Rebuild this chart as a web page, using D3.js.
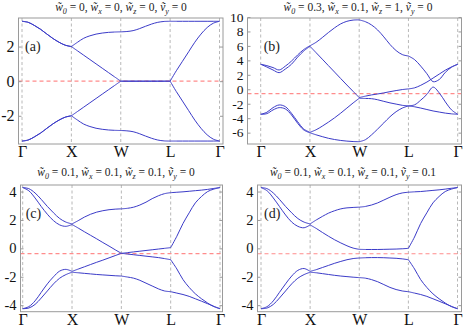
<!DOCTYPE html>
<html><head><meta charset="utf-8">
<script src="https://cdn.jsdelivr.net/npm/d3@7"></script>
<style>body{margin:0;background:#fff}svg{display:block}text{font-family:"Liberation Serif","Times New Roman",serif}</style>
</head><body>
<svg id="c" width="463" height="329"></svg>
<script>
// ---- data ----
const kPath = d3.range(0, 4.0001, 0.125);
const kLabels = ["Γ", "X", "W", "L", "Γ"];
const panelTags = ["(a)", "(b)", "(c)", "(d)"];
const titleParams = [["0","0","0","0"],["0.3","0.1","1","0"],["0.1","0.1","0.1","0"],["0.1","0.1","0.1","0.1"]];
const yTicksA = [-2, 0, 2];
const yTicksB = [-6, -4, -2, 0, 2, 4, 6, 8, 10];
const yTicksCD = [-4, -2, 0, 2, 4];
const fermi = [0, -0.6, -0.37, -0.38];

const a1 = [3.46,3.4,3.22,3.0,2.73,2.47,2.25,2.08,2.0, 2.25,2.48,2.62,2.72,2.78,2.82,2.84,2.85, 2.87,2.92,3.03,3.17,3.3,3.4,3.45,3.46, 3.46,3.46,3.46,3.46,3.46,3.46,3.46,3.46];
const a2 = [3.46,3.4,3.22,3.0,2.73,2.47,2.25,2.08,2.0, 1.75,1.5,1.25,1.0,0.75,0.5,0.25,0, 0,0,0,0,0,0,0,0, 0.6,1.15,1.7,2.25,2.72,3.1,3.35,3.46];
const a3 = [-3.46,-3.4,-3.22,-3.0,-2.73,-2.47,-2.25,-2.08,-2.0, -1.75,-1.5,-1.25,-1.0,-0.75,-0.5,-0.25,0, 0,0,0,0,0,0,0,0, -0.6,-1.15,-1.7,-2.25,-2.72,-3.1,-3.35,-3.46];
const a4 = [-3.46,-3.4,-3.22,-3.0,-2.73,-2.47,-2.25,-2.08,-2.0, -2.25,-2.48,-2.62,-2.72,-2.78,-2.82,-2.84,-2.85, -2.87,-2.92,-3.03,-3.17,-3.3,-3.4,-3.45,-3.46, -3.46,-3.46,-3.46,-3.46,-3.46,-3.46,-3.46,-3.46];

const b1 = [3.46,3.27,3.0,2.67,3.2,3.9,4.75,5.5,6.02, 6.5,7.15,7.85,8.5,9.05,9.4,9.57,9.6, 9.35,8.9,8.2,7.25,6.2,5.35,4.8,4.6, 4.1,3.2,2.15,1.05,1.35,2.35,3.05,3.46];
const b2 = [3.46,3.08,2.67,2.3,2.8,3.46,4.45,5.3,5.95, 5.06,4.17,3.27,2.38,1.48,0.59,-0.28,-1.15, -0.95,-0.78,-0.65,-0.5,-0.33,-0.18,-0.04,0.05, 0.2,0.55,1.0,1.55,2.1,2.65,3.1,3.46];
const b3 = [-3.46,-3.18,-2.54,-2.17,-2.4,-3.32,-4.48,-5.5,-5.95, -5.6,-5.1,-4.55,-3.95,-3.3,-2.6,-1.9,-1.25, -1.27,-1.3,-1.45,-1.67,-1.88,-2.05,-2.22,-2.3, -2.15,-1.5,-0.7,0.3,-0.5,-1.75,-2.85,-3.46];
const b4 = [-3.46,-3.37,-2.86,-2.54,-2.72,-3.55,-4.7,-5.63,-6.02, -6.3,-6.55,-6.78,-6.95,-7.08,-7.17,-7.23,-7.25, -6.98,-6.31,-5.5,-4.65,-3.8,-3.1,-2.6,-2.3, -2.42,-2.6,-2.8,-3.0,-3.15,-3.3,-3.4,-3.46];

const c1 = [4.28,4.2,3.9,3.45,2.95,2.5,2.1,1.85,1.72, 1.95,2.2,2.4,2.55,2.65,2.72,2.76,2.78, 2.82,2.9,3.05,3.25,3.5,3.7,3.85,3.92, 3.95,3.98,4.02,4.06,4.1,4.15,4.22,4.28];
const c2 = [4.28,4.05,3.55,2.95,2.4,1.95,1.65,1.55,1.68, 1.43,1.17,0.92,0.67,0.41,0.16,-0.1,-0.35, -0.3,-0.25,-0.2,-0.15,-0.1,-0.05,0.0,0.05, 0.85,1.75,2.5,3.2,3.65,4.0,4.17,4.28];
const c3 = [-4.25,-4.1,-3.7,-3.1,-2.5,-2.0,-1.6,-1.48,-1.62, -1.46,-1.3,-1.14,-0.98,-0.83,-0.67,-0.51,-0.35, -0.4,-0.45,-0.5,-0.55,-0.6,-0.65,-0.72,-0.8, -1.45,-2.2,-2.75,-3.2,-3.55,-3.85,-4.1,-4.25];
const c4 = [-4.25,-4.2,-3.95,-3.5,-3.0,-2.5,-2.1,-1.85,-1.68, -1.72,-1.76,-1.8,-1.84,-1.87,-1.9,-1.93,-1.95, -2.02,-2.1,-2.25,-2.45,-2.65,-2.85,-3.0,-3.05, -3.15,-3.25,-3.38,-3.55,-3.72,-3.9,-4.08,-4.25];

const d1 = [4.28,4.2,3.9,3.45,2.95,2.5,2.1,1.85,1.72, 2.0,2.25,2.48,2.65,2.78,2.85,2.88,2.9, 2.95,3.05,3.2,3.4,3.6,3.78,3.9,3.95, 3.98,4.0,4.04,4.08,4.12,4.17,4.23,4.28];
const d2 = [4.28,4.05,3.55,2.95,2.35,1.85,1.55,1.45,1.65, 1.4,1.12,0.85,0.6,0.38,0.18,0.02,-0.07, -0.08,-0.08,-0.08,-0.07,-0.06,-0.05,-0.03,0.0, 0.8,1.75,2.5,3.2,3.65,4.0,4.17,4.28];
const d3v = [-4.25,-4.1,-3.7,-3.1,-2.5,-1.95,-1.55,-1.42,-1.62, -1.5,-1.35,-1.2,-1.05,-0.92,-0.8,-0.72,-0.68, -0.66,-0.65,-0.65,-0.66,-0.68,-0.7,-0.74,-0.8, -1.45,-2.2,-2.75,-3.2,-3.55,-3.85,-4.1,-4.25];
const d4 = [-4.25,-4.2,-3.95,-3.5,-3.0,-2.5,-2.1,-1.85,-1.68, -1.72,-1.78,-1.84,-1.9,-1.95,-1.99,-2.03,-2.06, -2.1,-2.2,-2.35,-2.55,-2.75,-2.9,-3.0,-3.05, -3.15,-3.25,-3.38,-3.55,-3.72,-3.9,-4.08,-4.25];

// ---- layout ----
const panels = [
  {bands:[a1,a2,a3,a4], yt:yTicksA, dom:[-3.63,3.65], box:[18.5,18,223,144], fs:16, xk:[22,219.5], tx:121, ty:11},
  {bands:[b1,b2,b3,b4], yt:yTicksB, dom:[-7.57,9.86], box:[247.5,18,461.5,144], fs:13.5, xk:[260.7,457.7], tx:358, ty:11},
  {bands:[c1,c2,c3,c4], yt:yTicksCD, dom:[-4.46,4.46], box:[20.5,185,222.5,311.7], fs:14.5, xk:[22.7,220], tx:116, ty:176},
  {bands:[d1,d2,d3v,d4], yt:yTicksCD, dom:[-4.46,4.46], box:[257.5,185,461.5,311.7], fs:14.5, xk:[261,457.5], tx:353, ty:176}
];

const svg = d3.select("#c");
const serif = '"Liberation Serif","Times New Roman",serif';

panels.forEach((p, i) => {
  const [x0, y0, x1, y1] = p.box;
  const x = d3.scaleLinear().domain([0, 4]).range(p.xk);
  const y = d3.scaleLinear().domain(p.dom).range([y1, y0]);
  const g = svg.append("g");

  g.selectAll("line.v").data(d3.range(0, 5)).join("line")
    .attr("x1", d => x(d)).attr("x2", d => x(d)).attr("y1", y0).attr("y2", y1)
    .attr("stroke", "#a6a6a6").attr("stroke-width", 0.8).attr("stroke-dasharray", "3,2.5");

  g.append("line").attr("x1", x0).attr("x2", x1).attr("y1", y(fermi[i])).attr("y2", y(fermi[i]))
    .attr("stroke", "#ff8c8c").attr("stroke-width", 1.1).attr("stroke-dasharray", "4,3");

  const line = d3.line().x(d => x(d[0])).y(d => y(d[1])).curve(d3.curveCatmullRom.alpha(0.5));
  p.bands.forEach(b => {
    for (let s = 0; s < 4; s++) {
      const pts = kPath.map((k, j) => [k, b[j]]).slice(s * 8, s * 8 + 9);
      g.append("path").attr("d", line(pts)).attr("fill", "none")
        .attr("stroke", "#3b3bc8").attr("stroke-width", 1);
    }
  });

  g.append("rect").attr("x", x0).attr("y", y0).attr("width", x1 - x0).attr("height", y1 - y0)
    .attr("fill", "none").attr("stroke", "#9a9a9a").attr("stroke-width", 1);

  const ay = g.append("g").attr("transform", `translate(${x0},0)`)
    .call(d3.axisLeft(y).tickValues(p.yt).tickSize(-3).tickPadding(4).tickFormat(d => d < 0 ? "-" + Math.abs(d) : d));
  ay.attr("font-family", null);
  ay.select(".domain").remove();
  ay.selectAll("line").attr("stroke", "#9a9a9a");
  ay.selectAll("text").style("font-family", serif).attr("font-size", p.fs).attr("fill", "#111");
  const ar = g.append("g").attr("transform", `translate(${x1},0)`)
    .call(d3.axisRight(y).tickValues(p.yt).tickSize(-3).tickFormat(""));
  ar.select(".domain").remove();
  ar.selectAll("line").attr("stroke", "#9a9a9a");

  const ax = g.append("g").attr("transform", `translate(0,${y1})`)
    .call(d3.axisBottom(x).tickValues(d3.range(0, 5)).tickSize(0).tickPadding(2).tickFormat(d => kLabels[d]));
  ax.attr("font-family", null);
  ax.select(".domain").remove();
  ax.selectAll("text").style("font-family", serif).attr("font-size", 16).attr("fill", "#111");

  g.append("text").attr("x", x(0) + 3).attr("y", y0 + 33).style("font-family", serif)
    .attr("font-size", 14).attr("fill", "#222").text(panelTags[i]);

  const t = g.append("text").attr("x", p.tx).attr("y", p.ty).attr("text-anchor", "middle")
    .style("font-family", serif).attr("font-size", 11.5).attr("fill", "#222");
  const names = [["w", "0"], ["w", "x"], ["w", "z"], ["v", "y"]];
  names.forEach((n, j) => {
    t.append("tspan").attr("font-style", "italic").text(n[0] + "\u0303");
    t.append("tspan").attr("font-style", "italic").attr("font-size", 8).attr("dy", 2.5).text(n[1]);
    t.append("tspan").attr("dy", -2.5).text(" = " + titleParams[i][j] + (j < 3 ? ", " : ""));
  });
});
</script>
</body></html>
